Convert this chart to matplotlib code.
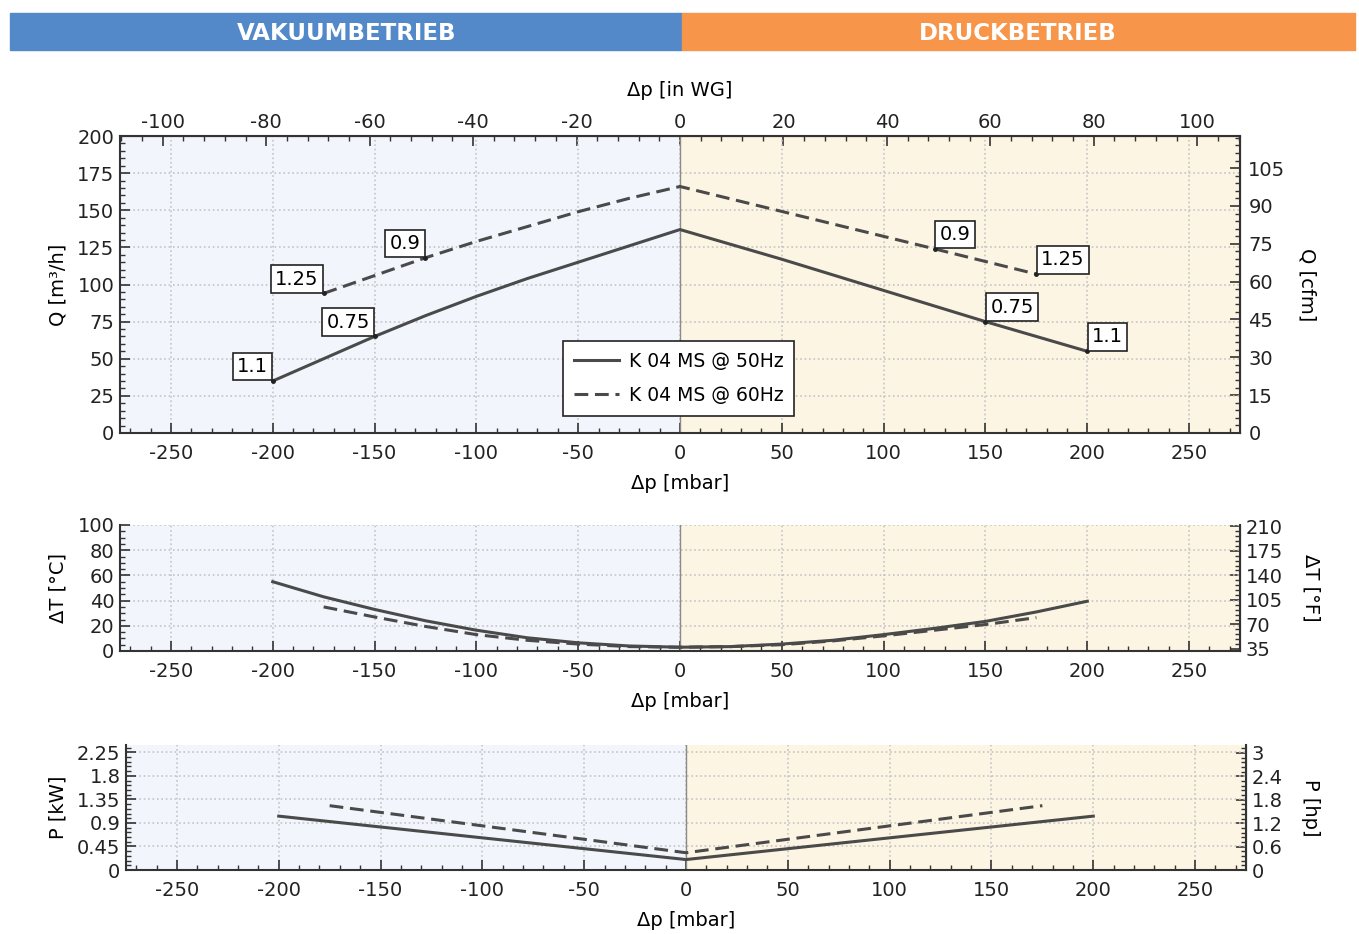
import matplotlib
matplotlib.use("Agg")
import matplotlib.pyplot as plt
from matplotlib.ticker import MultipleLocator, AutoMinorLocator
from matplotlib.patches import Rectangle

plt.rcParams['font.family'] = ['DejaVu Sans']
plt.rcParams['axes.unicode_minus'] = False

# ---------------- data ----------------
# Flow Q [m3/h]
dp_q50 = [-200, -175, -150, -125, -100, -75, -50, -25, 0, 50, 100, 150, 200]
q50 = [35, 50, 65, 79, 92, 104, 115, 126, 137, 117, 96, 75, 55]
dp_q60 = [-175, -150, -125, -100, -75, -50, -25, 0, 125, 175]
q60 = [94, 106, 118, 129, 139, 149, 158, 166, 124, 107]

# operating point labels (power kW)
ann_dp = [-200, -150, -175, -125, 150, 200, 125, 175]
ann_q = [35, 65, 94, 118, 75, 55, 124, 107]
ann_txt = ["1.1", "0.75", "1.25", "0.9", "0.75", "1.1", "0.9", "1.25"]

# Temperature rise dT [°C]
dp_t50 = [-200, -175, -150, -125, -100, -75, -50, -25, 0, 25, 50, 75, 100, 125, 150, 175, 200]
t50 = [55, 43, 33, 24, 16.5, 10.5, 6.5, 4, 3, 3.5, 5.5, 8.5, 13, 18, 23.5, 31, 39.5]
dp_t60 = [-175, -150, -125, -100, -75, -50, -25, 0, 25, 50, 75, 100, 125, 150, 175]
t60 = [35, 27, 19.5, 13, 8.5, 5.5, 3.5, 3, 3.5, 5, 8, 12, 16.5, 21, 26.5]

# Power P [kW]
dp_p50 = [-200, 0, 200]
p50 = [1.03, 0.2, 1.03]
dp_p60 = [-175, 0, 175]
p60 = [1.23, 0.33, 1.23]

series_labels = ["K 04 MS @ 50Hz", "K 04 MS @ 60Hz"]
banner_labels = ["VAKUUMBETRIEB", "DRUCKBETRIEB"]

# ---------------- style ----------------
W, H = 1359, 934
fig = plt.figure(figsize=(W / 100, H / 100), dpi=100)

BLUE_BG = '#f2f6fc'
TAN_BG = '#fdf5e3'
LINE = '#4a4a4a'
SPINE = '#333333'
FS = 14
DASH = (0, (4.5, 2.2))

# banner
fig.patches.append(Rectangle((10 / W, 1 - 50 / H), (682 - 10) / W, 37 / H,
                             transform=fig.transFigure, color='#5389c9', zorder=0))
fig.patches.append(Rectangle((682 / W, 1 - 50 / H), (1355 - 682) / W, 37 / H,
                             transform=fig.transFigure, color='#f7964a', zorder=0))
fig.text(347 / W, 1 - 33 / H, banner_labels[0], color='white', fontsize=16.5,
         fontweight='bold', ha='center', va='center')
fig.text(1018 / W, 1 - 33 / H, banner_labels[1], color='white', fontsize=16.5,
         fontweight='bold', ha='center', va='center')


def style_axes(ax, top_spine=True):
    ax.set_xlim(-275, 275)
    ax.axvspan(-275, 0, color=BLUE_BG, zorder=0, lw=0)
    ax.axvspan(0, 275, color=TAN_BG, zorder=0, lw=0)
    ax.axvline(0, color='#8a8a8a', lw=1, zorder=1)
    ax.grid(True, which='major', color='#c4c4c4', linestyle=':', lw=1.2, zorder=1)
    ax.xaxis.set_major_locator(MultipleLocator(50))
    ax.xaxis.set_minor_locator(AutoMinorLocator(5))
    ax.yaxis.set_minor_locator(AutoMinorLocator(5))
    ax.tick_params(which='both', direction='in', top=False, right=False,
                   labelsize=FS, colors=SPINE, labelcolor='#222222')
    ax.tick_params(which='major', length=7, width=1.2)
    ax.tick_params(which='minor', length=3.5, width=1)
    ax.tick_params(axis='x', which='both', pad=8)
    ax.tick_params(axis='y', which='both', pad=4)
    for s in ['left', 'bottom', 'right', 'top']:
        ax.spines[s].set_color(SPINE)
        ax.spines[s].set_linewidth(1.5)
    if not top_spine:
        ax.spines['top'].set_visible(False)
    ax.set_xlabel("Δp [mbar]", fontsize=FS, labelpad=8)
    ax.set_axisbelow(True)


def style_sec(sec):
    sec.tick_params(which='both', direction='in', labelsize=FS, colors=SPINE,
                    labelcolor='#222222')
    sec.tick_params(which='major', length=7, width=1.2)
    sec.tick_params(which='minor', length=3.5, width=1)


# ---- top chart: Q
ax1 = fig.add_axes([120 / W, 1 - 433 / H, 1120 / W, 297 / H])
style_axes(ax1)
ax1.set_ylim(0, 200)
ax1.yaxis.set_major_locator(MultipleLocator(25))
ax1.set_ylabel("Q [m³/h]", fontsize=FS, labelpad=7)
l1, = ax1.plot(dp_q50, q50, color=LINE, lw=2.2, zorder=3)
l2, = ax1.plot(dp_q60, q60, color=LINE, lw=2.2, ls=DASH, zorder=3)
ax1.plot(ann_dp, ann_q, ls='none', marker='o', ms=2.5, color='#222222', zorder=4)
for x, y, t in zip(ann_dp, ann_q, ann_txt):
    if x < 0:
        off, ha = (-3.5, 3.5), 'right'
    else:
        off, ha = (3.5, 3.5), 'left'
    ax1.annotate(t, (x, y), xytext=off, textcoords='offset points', ha=ha, va='bottom',
                 fontsize=FS, zorder=5,
                 bbox=dict(boxstyle='square,pad=0.22', fc='white', ec='#222222', lw=1.2))
leg = ax1.legend([l1, l2], series_labels, loc='lower left',
                 bbox_to_anchor=(0.3955, 0.0572), borderaxespad=0, fontsize=13.5,
                 frameon=True, fancybox=False, edgecolor='#222222', framealpha=1,
                 handlelength=2.4, handletextpad=0.5, borderpad=0.6, labelspacing=0.8)
leg.get_frame().set_linewidth(1.2)

secx = ax1.secondary_xaxis('top', functions=(lambda x: x / 2.54, lambda x: x * 2.54))
secx.xaxis.set_major_locator(MultipleLocator(20))
secx.xaxis.set_minor_locator(AutoMinorLocator(5))
style_sec(secx)
secx.tick_params(pad=3)
secx.set_xlabel("Δp [in WG]", fontsize=FS, labelpad=12)
secy = ax1.secondary_yaxis('right', functions=(lambda q: q * 0.5886, lambda c: c / 0.5886))
secy.yaxis.set_major_locator(MultipleLocator(15))
secy.yaxis.set_minor_locator(AutoMinorLocator(5))
style_sec(secy)
secy.tick_params(pad=6)
secy.set_ylabel("Q [cfm]", fontsize=FS, rotation=270, labelpad=22)

# ---- middle chart: dT
ax2 = fig.add_axes([120 / W, 1 - 651 / H, 1120 / W, 126 / H])
style_axes(ax2, top_spine=False)
ax2.set_ylim(0, 100)
ax2.yaxis.set_major_locator(MultipleLocator(20))
ax2.yaxis.set_minor_locator(AutoMinorLocator(4))
ax2.set_ylabel("ΔT [°C]", fontsize=FS, labelpad=7)
ax2.plot(dp_t50, t50, color=LINE, lw=2.2, zorder=3)
ax2.plot(dp_t60, t60, color=LINE, lw=2.2, ls=DASH, zorder=3)
secy2 = ax2.secondary_yaxis('right', functions=(lambda c: c * 1.8 + 32, lambda f: (f - 32) / 1.8))
secy2.yaxis.set_major_locator(MultipleLocator(35))
secy2.yaxis.set_minor_locator(AutoMinorLocator(5))
style_sec(secy2)
secy2.tick_params(pad=4)
secy2.set_ylabel("ΔT [°F]", fontsize=FS, rotation=270, labelpad=27)

# ---- bottom chart: P
ax3 = fig.add_axes([126 / W, 1 - 870 / H, 1120 / W, 125 / H])
style_axes(ax3, top_spine=False)
ax3.set_ylim(0, 2.39)
ax3.yaxis.set_major_locator(MultipleLocator(0.45))
ax3.yaxis.set_major_formatter(plt.FuncFormatter(lambda v, p: f"{v:g}"))
ax3.set_ylabel("P [kW]", fontsize=FS, labelpad=7)
ax3.plot(dp_p50, p50, color=LINE, lw=2.2, zorder=3)
ax3.plot(dp_p60, p60, color=LINE, lw=2.2, ls=DASH, zorder=3)
secy3 = ax3.secondary_yaxis('right', functions=(lambda k: k * 1.341, lambda h: h / 1.341))
secy3.yaxis.set_major_locator(MultipleLocator(0.6))
secy3.yaxis.set_minor_locator(AutoMinorLocator(5))
secy3.yaxis.set_major_formatter(plt.FuncFormatter(lambda v, p: f"{v:g}"))
style_sec(secy3)
secy3.tick_params(pad=4)
secy3.set_ylabel("P [hp]", fontsize=FS, rotation=270, labelpad=27)

fig.savefig("out.png", dpi=100, facecolor='white')
